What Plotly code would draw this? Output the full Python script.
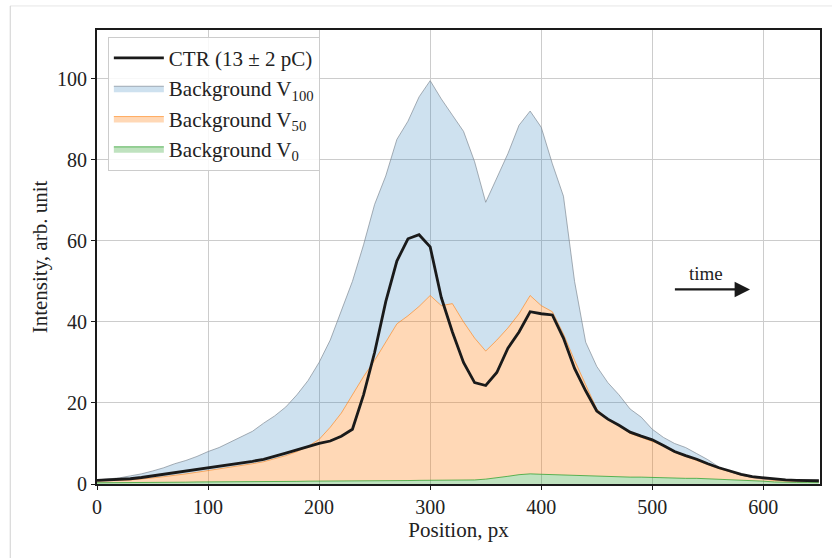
import plotly.graph_objects as go

# Position along the detector, px
position = list(range(0, 660, 10))

# Background at V100
v100 = [1.0, 1.2, 1.5, 2.0, 2.5, 3.2, 4.0, 5.0, 5.8, 6.8,
        8.0, 9.0, 10.3, 11.5, 13.0, 15.0, 16.8, 19.0, 22.0, 25.5,
        30.0, 35.5, 42.5, 50.0, 59.0, 69.0, 76.0, 85.0, 89.5, 95.5,
        99.5, 95.0, 91.0, 87.0, 79.5, 69.5, 75.5, 81.5, 88.5, 92.0,
        88.0, 79.0, 71.0, 50.0, 35.0, 29.0, 25.0, 22.0, 18.5, 16.5,
        13.5, 11.5, 10.0, 9.0, 7.5, 6.0, 4.2, 3.0, 2.2, 1.6,
        1.2, 1.0, 0.9, 0.8, 0.8, 0.8]

# Background at V50
v50 = [0.8, 0.8, 0.9, 1.0, 1.2, 1.5, 1.8, 2.1, 2.5, 2.9,
       3.3, 3.7, 4.1, 4.6, 5.0, 5.5, 6.2, 7.0, 8.0, 9.3,
       11.0, 14.0, 17.5, 22.0, 26.5, 30.5, 35.0, 39.5, 41.5, 43.8,
       46.5, 44.0, 44.5, 40.0, 36.0, 32.8, 35.5, 38.5, 42.0, 46.5,
       44.0, 42.5, 37.0, 30.5, 24.5, 18.5, 16.0, 14.5, 12.5, 11.5,
       10.5, 9.5, 7.8, 6.8, 5.8, 4.8, 3.8, 3.0, 2.2, 1.6,
       1.2, 0.9, 0.8, 0.7, 0.7, 0.7]

# Background at V0
v0 = [0.3, 0.3, 0.3, 0.35, 0.35, 0.4, 0.4, 0.45, 0.45, 0.5,
      0.5, 0.5, 0.55, 0.55, 0.6, 0.6, 0.6, 0.65, 0.65, 0.7,
      0.7, 0.7, 0.75, 0.75, 0.8, 0.8, 0.8, 0.85, 0.85, 0.9,
      0.9, 0.9, 0.95, 0.95, 1.0, 1.2, 1.5, 1.9, 2.3, 2.5,
      2.4, 2.3, 2.2, 2.1, 2.0, 1.9, 1.8, 1.8, 1.7, 1.7,
      1.6, 1.5, 1.5, 1.4, 1.4, 1.3, 1.2, 1.1, 1.0, 0.8,
      0.7, 0.5, 0.4, 0.4, 0.4, 0.4]

# CTR signal
ctr = [0.9, 1.0, 1.1, 1.3, 1.6, 2.0, 2.4, 2.8, 3.2, 3.6,
       4.0, 4.3, 4.7, 5.2, 5.6, 6.1, 6.8, 7.6, 8.4, 9.2,
       10.0, 10.6, 11.8, 13.5, 22.0, 32.5, 45.0, 55.0, 60.5, 61.5,
       58.5, 46.0, 37.5, 30.0, 25.0, 24.3, 27.5, 33.5, 37.5, 42.5,
       42.0, 41.7, 36.0, 28.5, 23.0, 18.0, 16.0, 14.5, 12.8, 11.8,
       10.9, 9.5, 8.0, 7.0, 6.1, 5.0, 4.0, 3.2, 2.4, 1.8,
       1.5, 1.2, 1.0, 0.9, 0.8, 0.8]

FONT = "Liberation Serif"
INK = "#222222"

fig = go.Figure()

fig.add_trace(go.Scatter(
    x=position, y=v0, mode="lines", name="Background V<sub>0</sub>",
    line=dict(color="rgba(44,160,44,0.75)", width=1),
    fill="tozeroy", fillcolor="rgba(44,160,44,0.3)", legendrank=4))
fig.add_trace(go.Scatter(
    x=position, y=v50, mode="lines", name="Background V<sub>50</sub>",
    line=dict(color="rgba(255,127,14,0.6)", width=1),
    fill="tonexty", fillcolor="rgba(255,127,14,0.3)", legendrank=3))
fig.add_trace(go.Scatter(
    x=position, y=v100, mode="lines", name="Background V<sub>100</sub>",
    line=dict(color="rgba(130,140,150,0.7)", width=1),
    fill="tonexty", fillcolor="rgba(31,119,180,0.22)", legendrank=2))
fig.add_trace(go.Scatter(
    x=position, y=ctr, mode="lines", name="CTR (13 ± 2 pC)",
    line=dict(color="#1a1a1a", width=2.8), legendrank=1))

# direction-of-time arrow
fig.add_annotation(x=588, y=48, ax=519, ay=48, xref="x", yref="y",
                   axref="x", ayref="y", text="", showarrow=True,
                   arrowhead=2, arrowsize=1.4, arrowwidth=2.2,
                   arrowcolor="#1a1a1a")
fig.add_annotation(x=548, y=48.8, xref="x", yref="y", text="time",
                   showarrow=False, yanchor="bottom",
                   font=dict(family=FONT, size=19, color=INK))

# light frame around the figure
fig.add_shape(type="line", xref="paper", yref="paper",
              x0=-0.12, x1=1.02, y0=1.053, y1=1.053,
              line=dict(color="#e6e6e6", width=1))
fig.add_shape(type="line", xref="paper", yref="paper",
              x0=-0.12, x1=-0.12, y0=1.053, y1=-0.17,
              line=dict(color="#d0d0d0", width=1))

axis_common = dict(
    showline=True, linecolor="#1a1a1a", linewidth=1.8, mirror=True,
    ticks="outside", ticklen=4, tickwidth=1.2, tickcolor="#1a1a1a",
    showgrid=True, gridcolor="#cccccc", gridwidth=1.2, zeroline=False,
    tickfont=dict(family=FONT, size=20, color=INK),
)

fig.update_xaxes(range=[0, 651], tickvals=[0, 100, 200, 300, 400, 500, 600],
                 title=dict(text="Position, px", standoff=2,
                            font=dict(family=FONT, size=21, color=INK)),
                 **axis_common)
fig.update_yaxes(range=[0, 112], tickvals=[0, 20, 40, 60, 80, 100],
                 title=dict(text="Intensity, arb. unit", standoff=4,
                            font=dict(family=FONT, size=21, color=INK)),
                 **axis_common)

fig.update_layout(
    width=832, height=558,
    margin=dict(l=97, r=10, t=30, b=74),
    plot_bgcolor="white", paper_bgcolor="white",
    font=dict(family=FONT, size=20, color=INK),
    legend=dict(x=0.015, y=0.985, xanchor="left", yanchor="top",
                traceorder="normal",
                bgcolor="rgba(255,255,255,0.85)", bordercolor="#cccccc",
                borderwidth=1, font=dict(family=FONT, size=21, color=INK),
                tracegroupgap=0, itemwidth=50),
)

fig.write_html("out.html")
